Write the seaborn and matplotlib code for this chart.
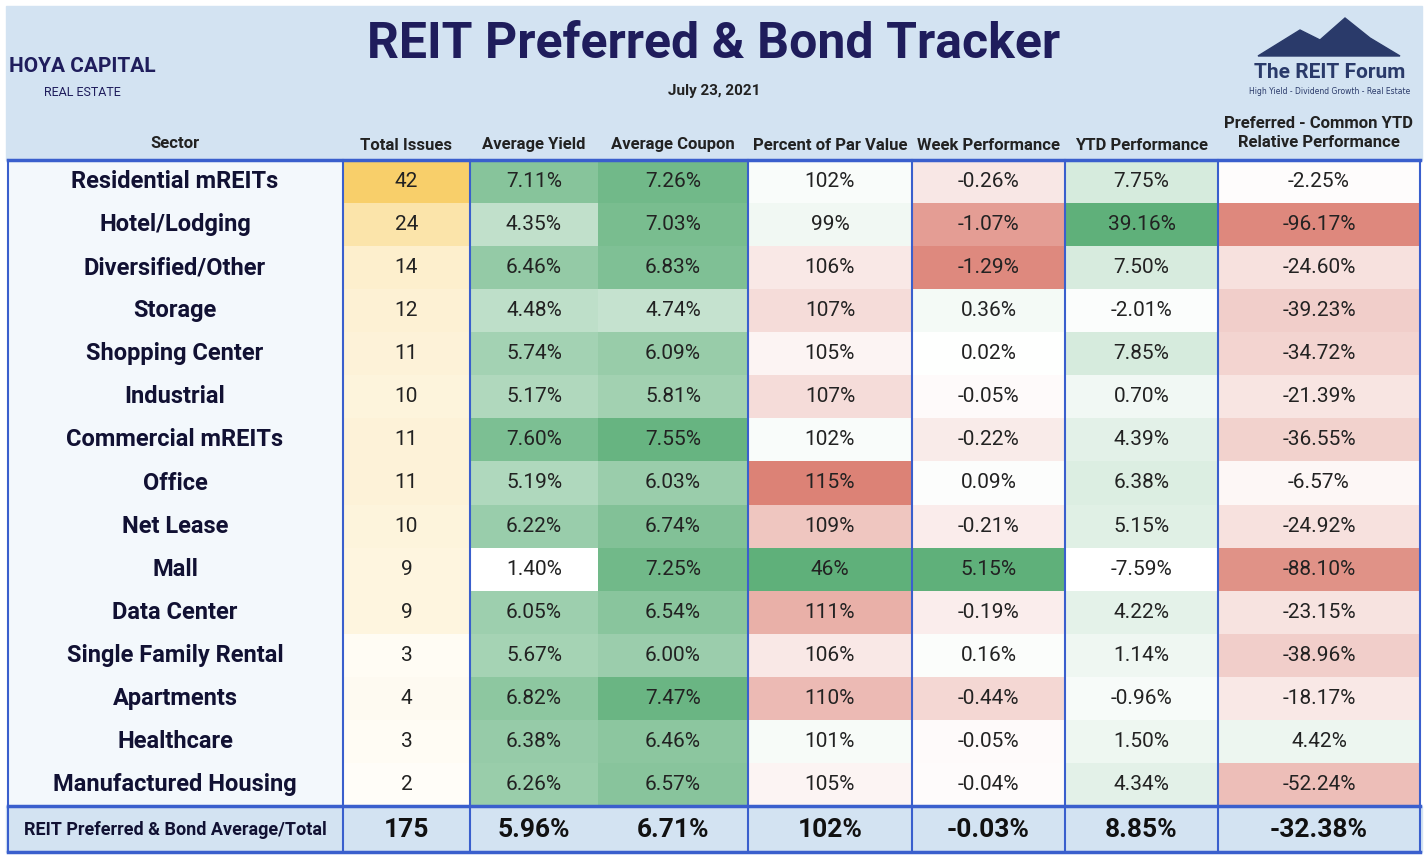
import matplotlib
matplotlib.use('Agg')
import matplotlib.pyplot as plt
import matplotlib.colors as mcolors
import seaborn as sns
import numpy as np
import pandas as pd

sectors = ['Residential mREITs', 'Hotel/Lodging', 'Diversified/Other', 'Storage', 'Shopping Center',
           'Industrial', 'Commercial mREITs', 'Office', 'Net Lease', 'Mall', 'Data Center',
           'Single Family Rental', 'Apartments', 'Healthcare', 'Manufactured Housing']
total_issues = [42, 24, 14, 12, 11, 10, 11, 11, 10, 9, 9, 3, 4, 3, 2]
avg_yield = [7.11, 4.35, 6.46, 4.48, 5.74, 5.17, 7.60, 5.19, 6.22, 1.40, 6.05, 5.67, 6.82, 6.38, 6.26]
avg_coupon = [7.26, 7.03, 6.83, 4.74, 6.09, 5.81, 7.55, 6.03, 6.74, 7.25, 6.54, 6.00, 7.47, 6.46, 6.57]
pct_par = [102, 99, 106, 107, 105, 107, 102, 115, 109, 46, 111, 106, 110, 101, 105]
week_perf = [-0.26, -1.07, -1.29, 0.36, 0.02, -0.05, -0.22, 0.09, -0.21, 5.15, -0.19, 0.16, -0.44, -0.05, -0.04]
ytd_perf = [7.75, 39.16, 7.50, -2.01, 7.85, 0.70, 4.39, 6.38, 5.15, -7.59, 4.22, 1.14, -0.96, 1.50, 4.34]
rel_perf = [-2.25, -96.17, -24.60, -39.23, -34.72, -21.39, -36.55, -6.57, -24.92, -88.10, -23.15,
            -38.96, -18.17, 4.42, -52.24]
headers = ['Total Issues', 'Average Yield', 'Average Coupon', 'Percent of Par Value',
           'Week Performance', 'YTD Performance', 'Preferred - Common YTD\nRelative Performance']
totals = ['175', '5.96%', '6.71%', '102%', '-0.03%', '8.85%', '-32.38%']

W, H = 1428, 858
fig = plt.figure(figsize=(W / 100, H / 100), dpi=100)
fig.patch.set_facecolor('white')
blue = '#3a5fcd'
navy = '#1f1d5c'
hdr_bg = '#d3e3f2'

def fx(x): return x / W
def fy(y): return 1 - y / H

bg2 = fig.add_axes([0, 0, 1, 1], zorder=0)
bg2.set_xlim(0, W); bg2.set_ylim(H, 0); bg2.axis('off')
bg2.add_patch(plt.Rectangle((6, 6), 1416, 154, color=hdr_bg))
bg2.add_patch(plt.Rectangle((6, 806), 1416, 46, color=hdr_bg))
bg2.add_patch(plt.Rectangle((8, 160), 335, 646, color='#f3f8fc'))

bg = fig.add_axes([0, 0, 1, 1], zorder=2)
bg.set_xlim(0, W); bg.set_ylim(H, 0); bg.axis('off')
bg.patch.set_alpha(0)

red = '#d9776a'; green = '#5fb07a'; yellow = '#f8cf6a'
seq_green = mcolors.LinearSegmentedColormap.from_list('g', ['white', green])
seq_yel = mcolors.LinearSegmentedColormap.from_list('y', ['white', yellow])
div_rg = mcolors.LinearSegmentedColormap.from_list('rg', [red, 'white', green])
div_gr = mcolors.LinearSegmentedColormap.from_list('gr', [green, 'white', red])

cols = [
    (total_issues, seq_yel, mcolors.Normalize(0, 42), '{:.0f}'),
    (avg_yield, seq_green, mcolors.Normalize(1.4, 9.0), '{:.2f}%'),
    (avg_coupon, seq_green, mcolors.Normalize(3.0, 7.8), '{:.2f}%'),
    (pct_par, div_gr, mcolors.TwoSlopeNorm(104, 46, 116), '{:.0f}%'),
    (week_perf, div_rg, mcolors.TwoSlopeNorm(0, -1.5, 5.15), '{:.2f}%'),
    (ytd_perf, seq_green, mcolors.Normalize(-3, 39.16), '{:.2f}%'),
    (rel_perf, div_rg, mcolors.TwoSlopeNorm(0, -110, 40), '{:.2f}%'),
]
edges = [343, 470, 598, 748, 912, 1065, 1218, 1420]
top, bot = 160, 806

for i, (vals, cmap, norm, fmt) in enumerate(cols):
    x0, x1 = edges[i], edges[i + 1]
    ax = fig.add_axes([fx(x0), fy(bot), fx(x1 - x0), (bot - top) / H], zorder=1)
    df = pd.DataFrame({'v': vals}, index=sectors)
    annot = np.array([[fmt.format(v)] for v in vals])
    sns.heatmap(df, ax=ax, cmap=cmap, norm=norm, cbar=False, annot=annot, fmt='',
                annot_kws={'fontsize': 15, 'color': '#222222', 'family': 'Roboto'}, linewidths=0)
    ax.set_xticks([]); ax.set_yticks([]); ax.set_xlabel(''); ax.set_ylabel('')
    bg.text((x0 + x1) / 2, 145 if i < 6 else 133, headers[i], ha='center', va='center',
            fontsize=12, fontweight='bold', color='#222222', family='Roboto', linespacing=1.4)
    bg.text((x0 + x1) / 2, 830, totals[i], ha='center', va='center', fontsize=19,
            fontweight='bold', color='#111111', family='Roboto')

for k, s in enumerate(sectors):
    y = top + (k + 0.5) * (bot - top) / 15
    bg.text(175, y, s, ha='center', va='center', fontsize=17, fontweight='bold',
            color='#111133', family='Roboto')
bg.text(175, 144, 'Sector', ha='center', va='center', fontsize=12, fontweight='bold',
        color='#222222', family='Roboto')
bg.text(175, 830, 'REIT Preferred & Bond Average/Total', ha='center', va='center', fontsize=13,
        fontweight='bold', color='#111133', family='Roboto')

for x in [8, 343, 470, 748, 912, 1065, 1218, 1420]:
    bg.plot([x, x], [top, 852], color=blue, lw=1.5)
for y in [top, 806, 852]:
    bg.plot([8, 1420], [y, y], color=blue, lw=2.5)

bg.text(714, 44, 'REIT Preferred & Bond Tracker', ha='center', va='center', fontsize=36,
        fontweight='bold', color=navy, family='Roboto')
bg.text(714, 91, 'July 23, 2021', ha='center', va='center', fontsize=11, fontweight='bold',
        color='#222222', family='Roboto')
bg.text(82, 66, 'HOYA CAPITAL', ha='center', va='center', fontsize=15, fontweight='bold',
        color=navy, family='Roboto')
bg.text(82, 92, 'REAL ESTATE', ha='center', va='center', fontsize=9, color=navy, family='Roboto')
bg.text(1330, 72, 'The REIT Forum', ha='center', va='center', fontsize=15, fontweight='bold',
        color='#2a3a6a', family='Roboto')
bg.text(1330, 91, 'High Yield - Dividend Growth - Real Estate', ha='center', va='center',
        fontsize=5.5, color='#2a3a6a')
bg.fill([1258, 1300, 1320, 1345, 1370, 1400], [56, 30, 40, 18, 38, 56], color='#2a3a6a')

fig.savefig('out.png', dpi=100)
